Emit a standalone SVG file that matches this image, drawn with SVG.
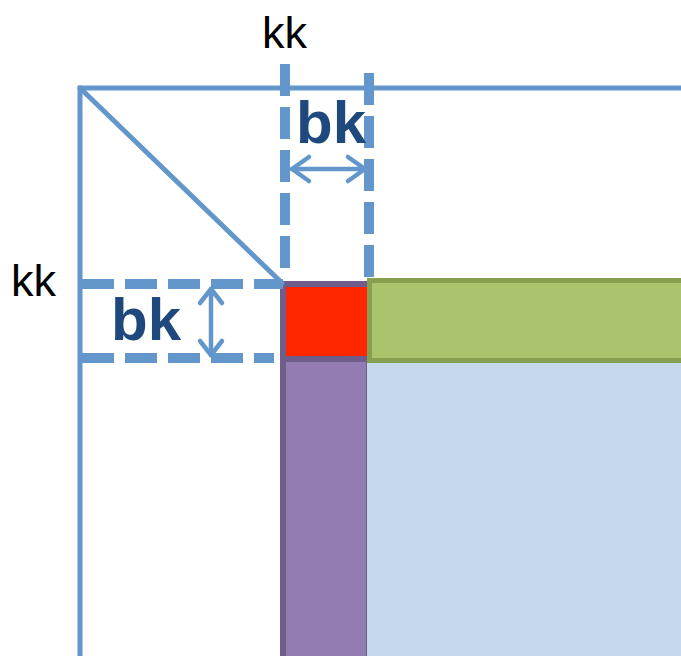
<svg xmlns="http://www.w3.org/2000/svg" width="681" height="656" viewBox="0 0 681 656">
  <style>
    .frame { stroke: #6396CB; stroke-width: 5; fill: none; stroke-linecap: round; }
    .dash { stroke: #6396CB; stroke-width: 10; fill: none; stroke-dasharray: 32 11; }
    .dim { stroke: #6396CB; stroke-width: 4.5; fill: none; stroke-linecap: round; stroke-linejoin: round; }
    .bk { font-family: "Liberation Sans", Arial, sans-serif; font-weight: bold; font-size: 60px; fill: #1F497D; }
    .kk { font-family: "Liberation Sans", Arial, sans-serif; font-size: 45px; fill: #000000; }
  </style>

  <!-- trailing submatrix -->
  <g id="trailing">
    <rect x="367" y="362" width="320" height="300" fill="#C5D8EC"/>
  </g>

  <!-- column panel below the diagonal block -->
  <g id="column-panel">
    <rect x="280" y="281" width="87" height="380" fill="#6F5E8C"/>
    <rect x="286" y="362" width="80" height="300" fill="#937CB0"/>
  </g>

  <!-- diagonal block -->
  <g id="diag-block">
    <rect x="286" y="287" width="81" height="69" fill="#FF2600"/>
  </g>

  <!-- row panel right of the diagonal block -->
  <g id="row-panel">
    <rect x="369.5" y="280.5" width="320" height="80" fill="#A9C46C" stroke="#86A050" stroke-width="5"/>
  </g>

  <g id="connectors">
    <!-- matrix frame and diagonal -->
    <path class="frame" d="M80 656 V88 H681"/>
    <line class="frame" x1="80" y1="88" x2="282" y2="283"/>

    <!-- block boundaries -->
    <line class="dash" x1="285" y1="64" x2="285" y2="272"/>
    <line class="dash" x1="369" y1="73" x2="369" y2="280"/>
    <line class="dash" x1="82" y1="284" x2="283" y2="284"/>
    <line class="dash" x1="82" y1="358" x2="274" y2="358" stroke-dasharray="18 12 32 11 32 11 32 11 32 11"/>

    <!-- block width dimension -->
    <line class="dim" x1="292" y1="169" x2="365" y2="169"/>
    <polyline class="dim" points="309,157 292,169 309,181"/>
    <polyline class="dim" points="348,157 365,169 348,181"/>

    <!-- block height dimension -->
    <line class="dim" x1="211" y1="289" x2="211" y2="355"/>
    <polyline class="dim" points="200,303 211,289 222,303"/>
    <polyline class="dim" points="200,341 211,355 222,341"/>
  </g>

  <g id="labels">
    <text class="kk" x="262" y="48">kk</text>
    <text class="kk" x="11" y="296">kk</text>
    <text class="bk" x="296" y="143">bk</text>
    <text class="bk" x="111" y="340">bk</text>
  </g>
</svg>
